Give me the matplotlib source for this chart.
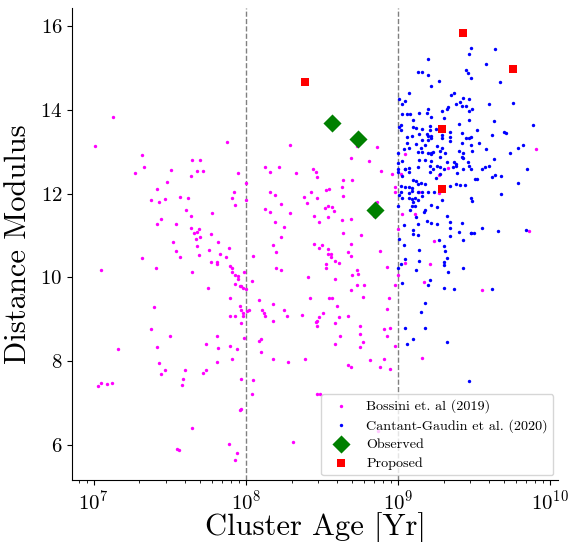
import numpy as np
import matplotlib
matplotlib.use("Agg")
import matplotlib.pyplot as plt

plt.rcParams["font.family"] = "serif"
plt.rcParams["font.serif"] = ["cmr10"]
plt.rcParams["mathtext.fontset"] = "cm"
plt.rcParams["axes.formatter.use_mathtext"] = True
plt.rcParams["axes.unicode_minus"] = False

# Bossini et al. (2019): log10 age [yr] and distance modulus
bossini_log_age = [
    7.13, 7.01, 7.32, 7.65, 7.70, 7.33, 7.27, 7.51, 7.68, 7.72,
    7.64, 7.48, 7.42, 7.57, 7.62, 7.38, 7.47, 7.43, 7.61, 7.64,
    7.44, 7.42, 7.54, 7.64, 7.69, 7.68, 7.66, 7.70, 7.67, 7.52,
    7.68, 7.54, 7.69, 7.57, 7.32, 7.41, 7.05, 7.65, 7.40, 7.38,
    7.50, 7.16, 7.42, 7.43, 7.47, 7.60, 7.44, 7.59, 7.05, 7.09,
    7.12, 7.03, 7.58, 7.65, 7.55, 7.56, 7.88, 8.29, 7.95, 8.13,
    8.22, 8.16, 8.33, 8.44, 8.46, 8.00, 7.92, 8.16, 8.19, 8.43,
    7.91, 8.00, 8.38, 8.40, 7.93, 8.23, 8.13, 7.78, 8.16, 8.29,
    8.45, 8.19, 8.25, 7.77, 8.23, 7.82, 8.45, 8.18, 7.89, 7.76,
    8.20, 7.83, 8.05, 7.87, 7.77, 7.81, 7.81, 7.90, 7.91, 8.20,
    8.23, 7.99, 7.91, 7.93, 7.95, 8.41, 7.95, 8.04, 7.93, 7.96,
    7.97, 7.98, 8.00, 7.75, 7.90, 8.42, 8.09, 8.18, 7.96, 7.97,
    8.02, 8.01, 8.11, 8.25, 7.98, 7.98, 8.12, 8.13, 7.90, 7.93,
    8.27, 8.37, 8.18, 7.97, 8.46, 7.81, 7.99, 8.10, 8.09, 7.74,
    7.82, 7.90, 7.94, 8.10, 7.81, 7.91, 8.18, 8.28, 8.39, 7.74,
    7.72, 7.97, 8.05, 8.04, 7.96, 7.97, 8.31, 7.89, 7.94, 7.93,
    8.73, 8.86, 8.69, 8.81, 8.47, 8.89, 8.96, 8.64, 8.70, 8.63,
    8.55, 8.53, 8.98, 8.98, 8.64, 8.47, 8.86, 8.52, 8.54, 8.57,
    8.58, 8.54, 8.84, 8.48, 8.63, 8.69, 8.64, 8.76, 8.48, 8.50,
    8.54, 8.54, 8.56, 8.56, 8.69, 8.67, 8.69, 8.88, 8.59, 8.61,
    8.53, 8.53, 8.93, 8.73, 8.74, 8.70, 9.00, 8.59, 8.98, 8.73,
    8.78, 8.69, 8.55, 8.57, 8.77, 8.94, 8.60, 8.93, 8.51, 8.48,
    8.67, 8.61, 8.47, 8.59, 8.47, 8.75, 8.91, 8.95, 8.75, 8.93,
    8.62, 8.77, 8.59, 8.75, 8.98, 8.82, 8.91, 8.88, 8.95, 8.67,
    8.69, 8.47, 8.49, 8.87, 9.05, 9.33, 9.14, 9.27, 9.27, 9.03,
    9.11, 9.00, 9.24, 9.05, 9.21, 9.17, 9.91, 9.86, 9.55, 9.16, 9.02,
]
bossini_dm = [
    13.83, 13.14, 12.92, 12.80, 12.80, 12.64, 12.50, 12.57, 12.54, 12.55,
    12.43, 12.29, 12.10, 11.93, 11.89, 11.85, 11.87, 11.79, 11.60, 11.47,
    11.40, 11.27, 11.28, 11.18, 11.15, 11.08, 11.05, 10.97, 10.91, 10.85,
    10.76, 10.64, 10.54, 10.48, 10.47, 10.23, 10.17, 10.14, 9.30, 8.76,
    8.61, 8.28, 8.33, 7.96, 7.79, 7.79, 7.69, 7.58, 7.49, 7.46,
    7.48, 7.40, 7.43, 6.41, 5.90, 5.89, 13.24, 13.17, 12.50, 12.64,
    12.64, 12.52, 12.49, 12.60, 12.52, 12.26, 12.05, 12.04, 11.96, 12.05,
    11.90, 11.85, 11.91, 11.77, 11.74, 11.76, 11.64, 11.54, 11.55, 11.54,
    11.47, 11.33, 11.20, 11.03, 10.97, 10.85, 10.80, 10.77, 10.71, 10.65,
    10.60, 10.55, 10.52, 10.49, 10.36, 10.37, 10.33, 10.27, 10.23, 10.22,
    10.17, 10.14, 10.13, 10.05, 10.03, 10.01, 9.95, 9.92, 9.84, 9.79,
    9.79, 9.74, 9.72, 9.74, 9.52, 9.51, 9.45, 9.36, 9.31, 9.21,
    9.23, 9.20, 9.23, 9.23, 9.14, 9.09, 9.14, 9.08, 9.09, 9.09,
    9.08, 9.11, 8.97, 8.90, 8.94, 8.61, 8.55, 8.54, 8.48, 8.41,
    8.31, 8.36, 8.28, 8.23, 7.97, 8.06, 8.05, 7.97, 8.06, 7.80,
    7.71, 7.58, 7.55, 7.21, 6.84, 6.85, 6.08, 6.01, 5.80, 5.64,
    13.14, 13.12, 12.85, 12.79, 12.40, 12.54, 12.48, 12.33, 12.32, 12.17,
    12.11, 12.08, 12.17, 12.05, 11.95, 11.89, 11.79, 11.65, 11.70, 11.68,
    11.59, 11.45, 11.46, 11.33, 11.38, 11.40, 11.06, 11.02, 10.71, 10.77,
    10.69, 10.57, 10.55, 10.48, 10.80, 10.60, 10.50, 10.63, 10.40, 10.34,
    10.31, 10.23, 10.25, 10.17, 10.07, 10.05, 10.05, 9.96, 9.83, 9.83,
    9.82, 9.69, 9.52, 9.52, 9.54, 9.52, 9.31, 9.24, 9.14, 9.05,
    9.09, 9.05, 8.95, 8.90, 8.84, 8.83, 8.77, 8.78, 8.64, 8.59,
    8.59, 8.45, 8.41, 8.33, 8.37, 8.02, 8.04, 7.85, 7.82, 7.90,
    7.86, 7.21, 7.21, 6.34, 12.95, 12.62, 12.05, 12.44, 12.02, 11.52,
    11.52, 11.15, 10.86, 10.35, 10.33, 9.90, 13.06, 11.10, 9.71, 8.08, 12.48,
]

# Cantat-Gaudin et al. (2020)
cantat_log_age = [
    9.20, 9.13, 9.16, 9.20, 9.27, 9.22, 9.47, 9.45, 9.46, 9.48,
    9.07, 9.35, 9.37, 9.01, 9.05, 9.43, 9.41, 9.47, 9.38, 9.03,
    9.20, 9.33, 9.32, 9.29, 9.42, 9.47, 9.03, 9.06, 9.08, 9.14,
    9.19, 9.22, 9.30, 9.10, 9.47, 9.40, 9.02, 9.01, 9.02, 9.10,
    9.12, 9.16, 9.21, 9.21, 9.25, 9.19, 9.14, 9.09, 9.06, 9.20,
    9.22, 9.22, 9.20, 9.29, 9.29, 9.34, 9.34, 9.42, 9.45, 9.06,
    9.16, 9.34, 9.47, 9.42, 9.12, 9.18, 9.26, 9.07, 9.15, 9.29,
    9.28, 9.48, 9.22, 9.23, 9.04, 9.13, 9.16, 9.00, 9.20, 9.31,
    9.40, 9.43, 9.22, 9.42, 9.43, 9.18, 9.14, 9.03, 9.00, 9.28,
    9.37, 9.38, 9.22, 9.32, 9.46, 9.07, 9.05, 9.13, 9.21, 9.23,
    9.28, 9.36, 9.38, 9.47, 9.00, 9.05, 9.07, 9.00, 9.21, 9.26,
    9.30, 9.39, 9.43, 9.03, 9.10, 9.12, 9.15, 9.13, 9.18, 9.25,
    9.28, 9.34, 9.38, 9.41, 9.44, 9.24, 9.29, 9.02, 9.05, 9.07,
    9.09, 9.02, 9.07, 9.09, 9.13, 9.16, 9.01, 9.03, 9.07, 9.09,
    9.11, 9.13, 9.16, 9.20, 9.10, 9.00, 9.09, 9.11, 9.22, 9.26,
    9.18, 9.17, 9.08, 9.12, 9.19, 9.22, 9.13, 9.04, 9.32, 9.34,
    9.42, 9.26, 9.10, 9.10, 9.13, 9.34, 9.34, 9.40, 9.43, 9.48,
    9.27, 9.01, 9.04, 9.30, 9.31, 9.14, 9.05, 9.02, 9.14, 9.30,
    9.30, 9.00, 9.12, 9.33, 9.21, 9.03, 9.20, 9.30, 9.37, 9.18,
    9.32, 9.43, 9.62, 9.15, 9.05, 9.18, 9.10, 9.06, 9.32, 9.47,
    9.48, 9.64, 9.58, 9.67, 9.45, 9.49, 9.60, 9.76, 9.63, 9.89,
    9.52, 9.48, 9.62, 9.70, 9.71, 9.53, 9.82, 9.79, 9.49, 9.58,
    9.74, 9.63, 9.48, 9.55, 9.57, 9.60, 9.64, 9.62, 9.68, 9.85,
    9.51, 9.52, 9.79, 9.68, 9.48, 9.49, 9.55, 9.48, 9.50, 9.66, 9.84,
]
cantat_dm = [
    15.21, 14.90, 14.90, 14.83, 14.70, 14.58, 15.33, 14.95, 14.87, 14.75,
    14.41, 14.35, 14.40, 14.25, 14.22, 14.29, 14.20, 14.25, 14.13, 14.14,
    14.02, 14.06, 14.02, 13.98, 14.09, 13.98, 13.89, 13.89, 13.90, 13.93,
    13.93, 13.82, 13.81, 13.77, 13.76, 13.66, 13.64, 13.60, 13.52, 13.60,
    13.57, 13.54, 13.61, 13.53, 13.55, 13.43, 13.42, 13.37, 13.36, 13.38,
    13.38, 13.33, 13.29, 13.40, 13.32, 13.48, 13.36, 13.45, 13.33, 13.22,
    13.28, 13.26, 13.34, 13.22, 13.18, 13.15, 13.14, 13.09, 13.10, 13.09,
    13.03, 13.17, 12.98, 13.00, 13.06, 12.99, 12.99, 12.96, 12.96, 12.98,
    13.01, 12.98, 12.94, 12.88, 12.86, 12.80, 12.80, 12.79, 12.74, 12.87,
    12.75, 12.71, 12.79, 12.75, 12.75, 12.62, 12.60, 12.63, 12.67, 12.60,
    12.64, 12.63, 12.65, 12.65, 12.59, 12.58, 12.52, 12.51, 12.52, 12.65,
    12.59, 12.50, 12.58, 12.43, 12.33, 12.31, 12.25, 12.24, 12.24, 12.37,
    12.47, 12.18, 12.22, 12.21, 12.21, 12.05, 11.86, 12.18, 12.16, 12.15,
    12.13, 12.05, 12.01, 12.06, 12.03, 11.95, 11.96, 11.89, 11.90, 11.87,
    11.90, 11.86, 12.04, 12.05, 11.80, 11.71, 11.71, 11.70, 11.74, 11.69,
    11.60, 11.57, 11.60, 11.44, 11.34, 11.29, 11.27, 11.25, 11.46, 11.32,
    11.30, 11.27, 11.12, 11.03, 11.01, 11.18, 10.98, 11.08, 10.89, 11.06,
    10.90, 10.92, 10.78, 10.76, 10.64, 10.66, 10.45, 10.32, 10.40, 10.37,
    10.29, 10.23, 10.18, 10.14, 9.94, 9.86, 9.82, 9.75, 9.73, 9.40,
    10.47, 10.23, 9.73, 9.17, 8.79, 8.79, 8.52, 8.40, 8.45, 7.53,
    15.48, 15.45, 15.09, 14.67, 14.09, 14.02, 14.13, 14.17, 13.73, 13.63,
    13.52, 13.36, 13.40, 13.47, 13.45, 13.20, 13.17, 13.10, 13.01, 13.06,
    12.97, 12.83, 12.59, 12.60, 12.64, 12.67, 12.44, 12.40, 12.42, 12.60,
    12.36, 12.34, 12.25, 11.98, 11.89, 11.83, 11.17, 11.06, 11.07, 11.11, 11.13,
]

# observed clusters
observed_log_age = [8.57, 8.74, 8.85]
observed_dm = [13.69, 13.31, 11.60]

# proposed targets
proposed_log_age = [8.39, 9.43, 9.76, 9.29, 9.29]
proposed_dm = [14.67, 15.83, 14.98, 13.55, 12.10]

fig = plt.figure(figsize=(5.69, 5.42), dpi=100)
ax = fig.add_axes([0.127, 0.115, 0.853, 0.870])

ax.scatter(10 ** np.array(bossini_log_age), bossini_dm, s=6, color="magenta",
           linewidths=0, label="Bossini et. al (2019)", zorder=2)
ax.scatter(10 ** np.array(cantat_log_age), cantat_dm, s=6, color="blue",
           linewidths=0, label="Cantant-Gaudin et al. (2020)", zorder=3)
ax.scatter(10 ** np.array(observed_log_age), observed_dm, s=85, marker="D",
           color="green", linewidths=0, label="Observed", zorder=4)
ax.scatter(10 ** np.array(proposed_log_age), proposed_dm, s=30, marker="s",
           color="red", linewidths=0, label="Proposed", zorder=5)

for xv in (1e8, 1e9):
    ax.axvline(xv, color="gray", linestyle="--", linewidth=1.0, zorder=1)

ax.set_xscale("log")
ax.set_xlim(10 ** 6.86, 10 ** 10.05)
ax.set_ylim(5.17, 16.43)
ax.set_yticks([6, 8, 10, 12, 14, 16])

ax.spines["top"].set_visible(False)
ax.spines["right"].set_visible(False)
ax.tick_params(axis="both", labelsize=15)

ax.set_xlabel("Cluster Age [Yr]", fontsize=22, labelpad=-1.5)
ax.set_ylabel("Distance Modulus", fontsize=22, labelpad=6)

ax.legend(loc="lower right", fontsize=10.2, handlelength=2.0,
          handletextpad=0.8, borderaxespad=0.3, labelspacing=0.4)

fig.savefig("out.png", dpi=100)
